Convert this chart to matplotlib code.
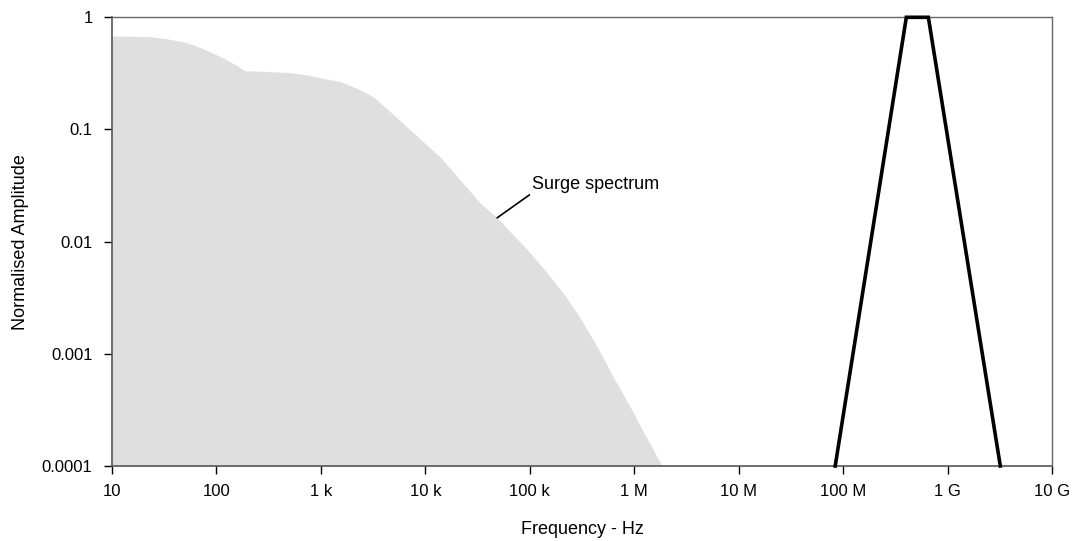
import matplotlib
matplotlib.use("Agg")
import matplotlib.pyplot as plt
from matplotlib.ticker import FixedLocator, NullLocator

plt.rcParams['font.family'] = ['Liberation Sans', 'DejaVu Sans']

# Surge spectrum envelope (frequency Hz, normalised amplitude)
surge_freq = [10, 14.9, 23.1, 32.2, 47.9, 62.4, 86.8, 121, 151, 188, 262, 507,
              738, 1050, 1528, 2222, 3162, 4603, 6699, 9528, 13870, 21530,
              33500, 48700, 69300, 101000, 147000, 209000, 304000, 443000,
              630000, 916000, 1.30e6, 1.85e6]
surge_amp = [0.68, 0.679, 0.672, 0.647, 0.606, 0.561, 0.494, 0.425, 0.380,
             0.334, 0.331, 0.321, 0.306, 0.286, 0.267, 0.233, 0.196, 0.144,
             0.105, 0.0778, 0.0569, 0.0355, 0.0221, 0.0163, 0.0115, 0.00793,
             0.00526, 0.00349, 0.00209, 0.00115, 0.000622, 0.000336, 0.000182,
             0.0001]

# Trapezoidal band (frequency Hz, amplitude)
band_freq = [84e6, 403e6, 655e6, 3.2e9]
band_amp = [1e-4, 1.0, 1.0, 1e-4]

xticks = [1e1, 1e2, 1e3, 1e4, 1e5, 1e6, 1e7, 1e8, 1e9, 1e10]
xticklabels = ['10', '100', '1 k', '10 k', '100 k', '1 M', '10 M', '100 M', '1 G', '10 G']
yticks = [1e-4, 1e-3, 1e-2, 1e-1, 1]
yticklabels = ['0.0001', '0.001', '0.01', '0.1', '1']

fig = plt.figure(figsize=(10.76, 5.41), dpi=100)
ax = fig.add_axes([112/1076, 1-466/541, 940/1076, (466-17.3)/541])
ax.set_xscale('log')
ax.set_yscale('log')
ax.set_xlim(10, 1e10)
ax.set_ylim(1e-4, 1)

ax.fill_between(surge_freq, surge_amp, 1e-4, color='#dfdfdf', linewidth=0, zorder=1)
ax.plot(band_freq, band_amp, color='black', linewidth=2.6, clip_on=False, zorder=3,
        solid_joinstyle='miter')

ax.annotate('Surge spectrum', xy=(48700, 0.0163), xytext=(105500, 0.0272),
            fontsize=13, ha='left', va='bottom',
            arrowprops=dict(arrowstyle='-', color='black', lw=1.2,
                            shrinkA=0, shrinkB=0, relpos=(0, 0)))

ax.xaxis.set_major_locator(FixedLocator(xticks))
ax.set_xticklabels(xticklabels)
ax.xaxis.set_minor_locator(NullLocator())
ax.yaxis.set_major_locator(FixedLocator(yticks))
ax.set_yticklabels(yticklabels)
ax.yaxis.set_minor_locator(NullLocator())

ax.tick_params(axis='both', direction='out', length=6, width=1, color='black',
               labelsize=12)
ax.tick_params(axis='x', pad=7)
ax.tick_params(axis='y', pad=8)
ax.tick_params(top=False, right=False)

for s in ['left', 'bottom']:
    ax.spines[s].set_color('#555555')
    ax.spines[s].set_linewidth(1.2)
for s in ['top', 'right']:
    ax.spines[s].set_color('#666666')
    ax.spines[s].set_linewidth(1.0)

ax.set_xlabel('Frequency - Hz', fontsize=13, labelpad=16)
ax.set_ylabel('Normalised Amplitude', fontsize=13, labelpad=9)

fig.savefig('out.png', dpi=100)
